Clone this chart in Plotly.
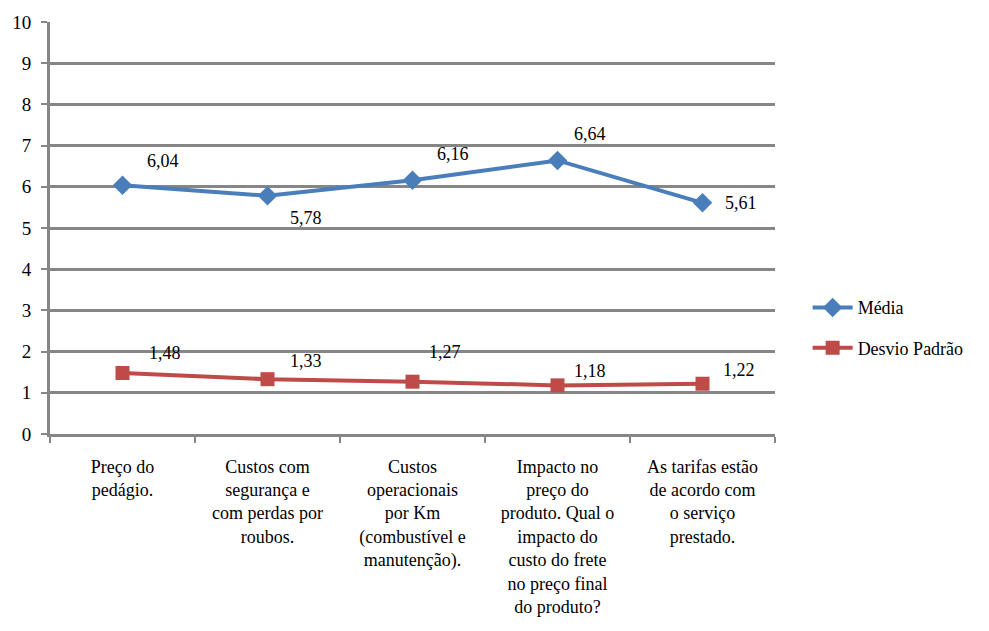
import plotly.graph_objects as go

categories = [
    "Preço do<br>pedágio.",
    "Custos com<br>segurança e<br>com perdas por<br>roubos.",
    "Custos<br>operacionais<br>por Km<br>(combustível e<br>manutenção).",
    "Impacto no<br>preço do<br>produto. Qual o<br>impacto do<br>custo do frete<br>no preço final<br>do produto?",
    "As tarifas estão<br>de acordo com<br>o serviço<br>prestado.",
]
media = [6.04, 5.78, 6.16, 6.64, 5.61]
desvio = [1.48, 1.33, 1.27, 1.18, 1.22]

# label offsets (px) for the value annotations
media_offsets = [(40, 24), (38, -22), (40, 26), (32, 26), (38, 0)]
desvio_offsets = [(42, 20), (38, 18), (32, 30), (32, 14), (36, 14)]

FONT = "Times New Roman"
BLUE = "#4a7ebb"
RED = "#be4b48"
GRID = "#868686"

fig = go.Figure()
fig.add_trace(go.Scatter(
    x=categories, y=media, name="Média", mode="lines+markers",
    line=dict(color=BLUE, width=4),
    marker=dict(symbol="diamond", size=15, color=BLUE),
    legendgroup="a",
))
fig.add_trace(go.Scatter(
    x=categories, y=desvio, name="Desvio Padrão", mode="lines+markers",
    line=dict(color=RED, width=4),
    marker=dict(symbol="square", size=14, color=RED),
    legendgroup="b",
))

def fmt(v):
    return f"{v:.2f}".replace(".", ",")

for vals, offs in ((media, media_offsets), (desvio, desvio_offsets)):
    for c, v, (dx, dy) in zip(categories, vals, offs):
        fig.add_annotation(
            x=c, y=v, text=fmt(v), showarrow=False,
            xshift=dx, yshift=dy,
            font=dict(family=FONT, size=18, color="black"),
        )

fig.update_layout(
    width=989, height=631,
    margin=dict(l=48, r=214, t=20, b=197),
    paper_bgcolor="white", plot_bgcolor="white",
    font=dict(family=FONT, size=17, color="black"),
    showlegend=True,
    legend=dict(
        x=1.045, y=0.258, xanchor="left", yanchor="middle",
        font=dict(family=FONT, size=18, color="black"),
        tracegroupgap=14, itemwidth=40,
    ),
)
fig.update_xaxes(
    range=[-0.5, len(categories) - 0.5],
    showgrid=False, showline=True, linecolor=GRID, linewidth=3,
    ticks="outside", tickson="boundaries", ticklen=6, tickwidth=2,
    tickcolor=GRID, tickangle=0, ticklabelstandoff=14,
    tickfont=dict(family=FONT, size=18, color="black"),
)
fig.update_yaxes(
    range=[0, 10], dtick=1, showgrid=True, gridcolor=GRID, gridwidth=3,
    showline=True, linecolor=GRID, linewidth=3, zeroline=False,
    ticks="outside", ticklen=6, tickwidth=2, tickcolor=GRID,
    ticklabelstandoff=6,
    tickfont=dict(family=FONT, size=19, color="black"),
)

fig.write_html("out.html")
